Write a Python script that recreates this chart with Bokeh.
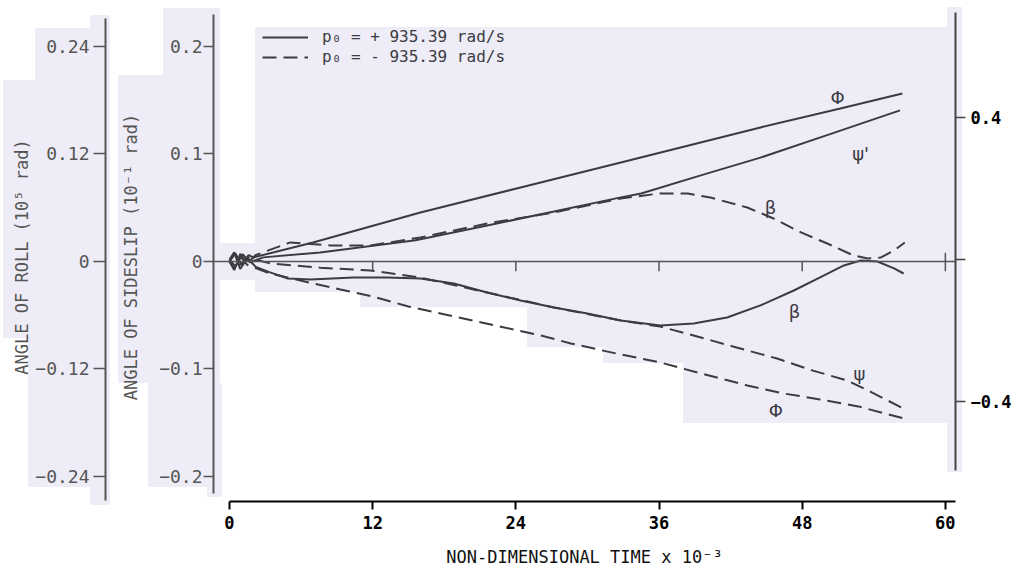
from bokeh.plotting import figure
from bokeh.models import (Range1d, LinearAxis, FixedTicker, Span, Label, Legend, LegendItem)
from bokeh.embed import file_html
from bokeh.resources import INLINE

# ---------------- data ----------------
x_ticks = [0, 12, 24, 36, 48, 60]
sideslip_ticks = [-0.2, -0.1, 0, 0.1, 0.2]
roll_ticks = [-0.24, -0.12, 0, 0.12, 0.24]
yaw_ticks = [-0.4, 0, 0.4]
zero_line_ticks = [12, 24, 36, 48]

# p0 = +935.39 rad/s (solid)
t_phi_pos = [0, 0.5, 1.0, 1.6, 2.0, 7.0, 16.0, 24.4, 32.8, 44.5, 51.2, 56.4]
phi_pos = [0, 0.009, -0.004, 0.007, 0.0045, 0.0212, 0.0547, 0.0826, 0.1105, 0.1496, 0.1708, 0.1875]

t_psi_pos = [0, 0.5, 1.1, 1.7, 2.85, 7.6, 15.6, 21.6, 27.2, 32.8, 34.5, 39.5, 44.5, 50.4, 56.2]
psi_pos = [0, -0.02, 0.015, -0.008, 0.006, 0.020, 0.054, 0.096, 0.135, 0.175, 0.186, 0.237, 0.287, 0.354, 0.420]

t_beta_pos = [0, 0.4, 0.9, 1.5, 2.2, 3.4, 4.9, 6.8, 10.4, 13.2, 16.0, 18.8, 21.6, 24.4, 27.2,
              30.0, 32.8, 36.1, 38.9, 41.7, 44.5, 47.3, 49.5, 51.5, 52.9, 54.3, 55.7, 56.5]
beta_pos = [0, 0.008, -0.007, 0.003, -0.005, -0.0102, -0.0158, -0.0167, -0.0149, -0.0149, -0.0158,
            -0.0205, -0.0288, -0.0363, -0.0428, -0.0484, -0.0549, -0.0595, -0.0577, -0.0521,
            -0.0409, -0.0270, -0.0149, -0.0037, 0.0009, 0.0, -0.0065, -0.0112]

# p0 = -935.39 rad/s (dashed)
t_phi_neg = [0, 0.4, 0.9, 1.5, 3.4, 7.0, 9.3, 12.0, 15.0, 26.1, 28.6, 32.4, 36.1, 39.5, 43.4,
             46.4, 49.5, 52.7, 56.5]
phi_neg = [0, -0.008, 0.006, -0.004, -0.0134, -0.0246, -0.0313, -0.0391, -0.0502, -0.0826,
           -0.0915, -0.1027, -0.1127, -0.125, -0.1384, -0.1473, -0.154, -0.1618, -0.1752]

t_psi_neg = [0, 0.4, 0.9, 1.5, 3.4, 7.6, 11.8, 16.0, 21.6, 27.2, 32.8, 36.1, 38.9, 42.2, 45.9,
             48.9, 51.8, 53.7, 56.5]
psi_neg = [0, 0.02, -0.015, 0.006, -0.011, -0.023, -0.031, -0.051, -0.093, -0.135, -0.172,
           -0.189, -0.214, -0.245, -0.279, -0.313, -0.341, -0.372, -0.420]

t_beta_neg = [0, 0.4, 0.9, 1.5, 2.2, 5.1, 8.5, 11.8, 16.0, 21.6, 27.2, 32.8, 36.1, 38.4, 40.3,
              43.4, 45.6, 47.9, 50.1, 52.3, 53.5, 54.6, 55.7, 56.6]
beta_neg = [0, -0.008, 0.007, -0.002, 0.006, 0.0177, 0.0149, 0.0149, 0.0223, 0.0353, 0.0456,
            0.0586, 0.0633, 0.0633, 0.0595, 0.0502, 0.0400, 0.0270, 0.0167, 0.0056, 0.0028,
            0.0037, 0.0102, 0.0177]

legend_labels = ["p\u2080 = + 935.39 rad/s", "p\u2080 = - 935.39 rad/s"]

# ---------------- styling ----------------
INK = "#3b3b42"
GREY = "#555555"
LAV = "#EEECF7"
MONO = "DejaVu Sans Mono"
DASH = "14 7"

# scanned-paper lavender patches, page pixels: (left, top, width, height)
paper_patches = [
    (255, 27, 695, 265), (220, 243, 35, 37), (360, 292, 590, 15), (527, 307, 423, 40),
    (603, 347, 347, 16), (683, 363, 267, 60), (947, 7, 15, 465),
    (3, 80, 107, 258), (28, 338, 82, 149), (35, 28, 75, 52), (90, 15, 20, 490),
    (163, 8, 57, 67), (118, 75, 102, 308), (148, 383, 74, 104), (207, 487, 15, 10),
]
bg_css = {
    "background-color": "white",
    "background-image": ", ".join([f"linear-gradient({LAV}, {LAV})"] * len(paper_patches)),
    "background-position": ", ".join(f"{l}px {t}px" for l, t, w, h in paper_patches),
    "background-size": ", ".join(f"{w}px {h}px" for l, t, w, h in paper_patches),
    "background-repeat": "no-repeat",
}

p = figure(frame_width=742, frame_height=489,
           x_range=Range1d(-1.34, 60.85), y_range=Range1d(-0.2233, 0.2316),
           output_backend="svg", toolbar_location=None,
           min_border_left=213, min_border_right=63, min_border_top=12, min_border_bottom=66,
           background_fill_alpha=0, border_fill_alpha=0,
           outline_line_color=None)
p.styles = bg_css
p.grid.visible = False

p.extra_y_ranges = {"roll": Range1d(-0.26796, 0.27792),
                    "yaw": Range1d(-0.6817, 0.6958)}

# zero reference line with its small ticks
p.add_layout(Span(location=0, dimension="width", line_color=GREY, line_width=1.5))
p.segment(x0=zero_line_ticks, y0=0, x1=zero_line_ticks, y1=-0.009, line_color=GREY, line_width=1.5)
p.segment(x0=[x_ticks[-1]], y0=0.008, x1=[x_ticks[-1]], y1=-0.009, line_color=GREY, line_width=1.5)

# curves
r_phi_pos = p.line(t_phi_pos, phi_pos, y_range_name="roll", line_color=INK, line_width=2)
p.line(t_psi_pos, psi_pos, y_range_name="yaw", line_color=INK, line_width=2)
p.line(t_beta_pos, beta_pos, line_color=INK, line_width=2)
r_phi_neg = p.line(t_phi_neg, phi_neg, y_range_name="roll", line_color=INK, line_width=2, line_dash=DASH)
p.line(t_psi_neg, psi_neg, y_range_name="yaw", line_color=INK, line_width=2, line_dash=DASH)
p.line(t_beta_neg, beta_neg, line_color=INK, line_width=2, line_dash=DASH)

# curve labels
for txt, x, y in [("\u03a6", 50.96, 0.1526), ("\u03c8'", 52.9, 0.1005), ("\u03b2", 45.35, 0.0502),
                  ("\u03b2", 47.36, -0.0465), ("\u03c8", 52.8, -0.1042), ("\u03a6", 45.8, -0.1386)]:
    p.add_layout(Label(x=x, y=y, text=txt, text_align="center", text_baseline="middle",
                       text_font="DejaVu Sans", text_font_size="18px", text_color=INK))

# x axis
xa = p.xaxis[0]
xa.ticker = FixedTicker(ticks=x_ticks)
xa.bounds = (0, 60.9)
xa.axis_line_color = "black"
xa.axis_line_width = 2
xa.major_tick_line_color = "black"
xa.major_tick_line_width = 2
xa.major_tick_out = 8
xa.major_tick_in = 0
xa.minor_tick_line_color = None
xa.major_label_standoff = 6
xa.major_label_text_font = MONO
xa.major_label_text_font_size = "17px"
xa.major_label_text_font_style = "bold"
xa.major_label_text_color = "black"
xa.axis_label = "NON-DIMENSIONAL TIME x 10\u207b\u00b3"
xa.axis_label_standoff = 15
xa.axis_label_text_font = MONO
xa.axis_label_text_font_size = "17px"
xa.axis_label_text_font_style = "normal"
xa.axis_label_text_color = "#111111"


def style_left(ax, ticks, bounds, label, tick_out, lab_standoff, label_standoff):
    ax.ticker = FixedTicker(ticks=ticks)
    ax.major_label_overrides = {0: "0"}
    ax.bounds = bounds
    ax.axis_line_color = GREY
    ax.axis_line_width = 2
    ax.major_tick_line_color = GREY
    ax.major_tick_line_width = 1.5
    ax.major_tick_out = tick_out
    ax.major_tick_in = 0
    ax.minor_tick_line_color = None
    ax.major_label_standoff = lab_standoff
    ax.major_label_text_font = MONO
    ax.major_label_text_font_size = "18px"
    ax.major_label_text_color = GREY
    ax.axis_label = label
    ax.axis_label_standoff = label_standoff
    ax.axis_label_text_font = MONO
    ax.axis_label_text_font_size = "17px"
    ax.axis_label_text_font_style = "normal"
    ax.axis_label_text_color = GREY


# inner (sideslip) axis
style_left(p.yaxis[0], sideslip_ticks, (-0.2158, 0.2298),
           "ANGLE OF SIDESLIP (10\u207b\u00b9 rad)", 10, 1, 15)

# invisible spacer between the two left axes (one hidden tick gives it width)
spacer = LinearAxis(ticker=FixedTicker(ticks=[0]), major_label_overrides={0: ""},
                    axis_line_color=None, major_tick_out=13, major_tick_in=0,
                    major_tick_line_color=None, minor_tick_line_color=None,
                    major_label_standoff=0, major_label_text_font_size="1px")
p.add_layout(spacer, "left")

# outer (roll) axis
roll_axis = LinearAxis(y_range_name="roll")
style_left(roll_axis, roll_ticks, (-0.2667, 0.2712), "ANGLE OF ROLL (10\u2075 rad)", 12, 4, 0)
p.add_layout(roll_axis, "left")

# right (yaw) axis
ya = LinearAxis(y_range_name="yaw")
ya.ticker = FixedTicker(ticks=yaw_ticks)
ya.major_label_overrides = {0: ""}
ya.bounds = (-0.594, 0.6958)
ya.axis_line_color = "#444444"
ya.axis_line_width = 2
ya.major_tick_line_color = "#444444"
ya.major_tick_line_width = 1.5
ya.major_tick_out = 10
ya.major_tick_in = 0
ya.minor_tick_line_color = None
ya.major_label_standoff = 5
ya.major_label_text_font = MONO
ya.major_label_text_font_size = "17px"
ya.major_label_text_font_style = "bold"
ya.major_label_text_color = "black"
p.add_layout(ya, "right")

# legend: one single-row legend per line style so each row sits where it does on the page
for lab, rend, ypos in [(legend_labels[0], r_phi_pos, 455), (legend_labels[1], r_phi_neg, 435)]:
    lg = Legend(items=[LegendItem(label=lab, renderers=[rend])],
                location=(49, ypos), padding=0, margin=0, spacing=0,
                glyph_width=46, glyph_height=16, label_height=16, label_standoff=14,
                label_text_font=MONO, label_text_font_size="16px", label_text_color=INK,
                border_line_color=None, background_fill_alpha=0)
    p.add_layout(lg)

open("out.html", "w").write(file_html(p, INLINE))
